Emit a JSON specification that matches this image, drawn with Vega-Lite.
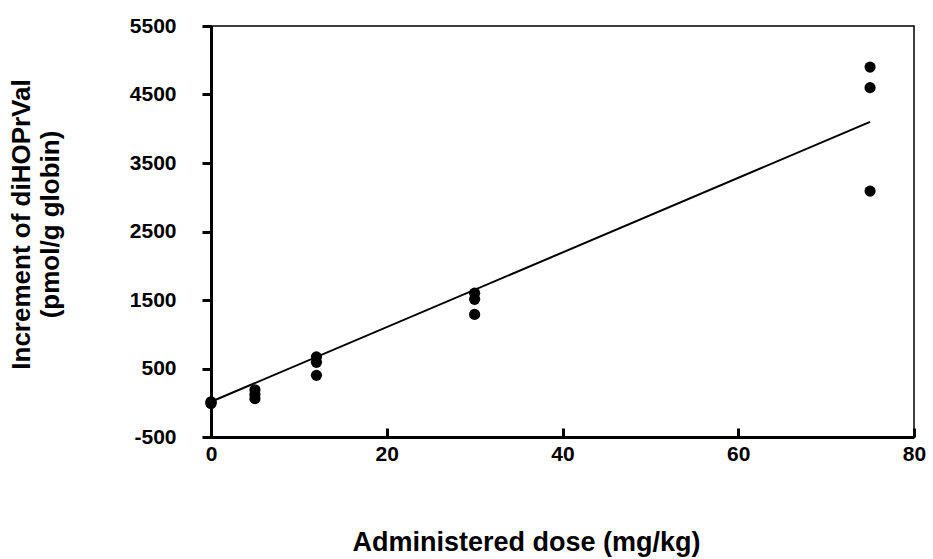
{
  "$schema": "https://vega.github.io/schema/vega-lite/v6.json",
  "width": 703,
  "height": 411,
  "autosize": {"type": "none"},
  "padding": {"left": 211, "top": 26, "right": 19, "bottom": 122},
  "background": "white",
  "config": {
    "view": {"stroke": "black", "strokeWidth": 1.5},
    "font": "Liberation Sans",
    "axis": {
      "grid": false,
      "domainColor": "black",
      "domainWidth": 3,
      "tickColor": "black",
      "tickWidth": 3,
      "labelFont": "Liberation Sans",
      "labelFontWeight": "bold",
      "labelFontSize": 21,
      "labelColor": "black",
      "labelFlush": false,
      "labelExpr": "'' + datum.value",
      "titleFont": "Liberation Sans",
      "titleFontWeight": "bold",
      "titleColor": "black"
    }
  },
  "datasets": {
    "points": [
      {"dose": 0, "value": 15},
      {"dose": 0, "value": 0},
      {"dose": 0, "value": -10},
      {"dose": 5, "value": 190},
      {"dose": 5, "value": 120},
      {"dose": 5, "value": 60},
      {"dose": 12, "value": 670},
      {"dose": 12, "value": 590},
      {"dose": 12, "value": 400},
      {"dose": 30, "value": 1600},
      {"dose": 30, "value": 1510},
      {"dose": 30, "value": 1290},
      {"dose": 75, "value": 4900},
      {"dose": 75, "value": 4600},
      {"dose": 75, "value": 3090}
    ],
    "fit": [
      {"dose": 0, "value": 15},
      {"dose": 75, "value": 4100}
    ]
  },
  "layer": [
    {
      "data": {"name": "fit"},
      "mark": {"type": "line", "color": "black", "strokeWidth": 2},
      "encoding": {
        "x": {"field": "dose", "type": "quantitative"},
        "y": {"field": "value", "type": "quantitative"}
      }
    },
    {
      "data": {"name": "points"},
      "mark": {"type": "point", "filled": true, "shape": "circle", "color": "black", "opacity": 1, "size": 125},
      "encoding": {
        "x": {
          "field": "dose",
          "type": "quantitative",
          "scale": {"domain": [0, 80], "nice": false, "zero": false},
          "axis": {
            "values": [0, 20, 40, 60, 80],
            "tickSize": -9,
            "labelPadding": 15,
            "title": "Administered dose (mg/kg)",
            "titleFontSize": 27,
            "titlePadding": 65,
            "titleX": 315
          }
        },
        "y": {
          "field": "value",
          "type": "quantitative",
          "scale": {"domain": [-500, 5500], "nice": false, "zero": false},
          "axis": {
            "values": [-500, 500, 1500, 2500, 3500, 4500, 5500],
            "tickSize": 9,
            "labelPadding": 26,
            "title": ["Increment of diHOPrVal", "(pmol/g globin)"],
            "titleFontSize": 26,
            "titleLineHeight": 29,
            "titlePadding": 66,
            "titleY": 198
          }
        }
      }
    }
  ]
}
